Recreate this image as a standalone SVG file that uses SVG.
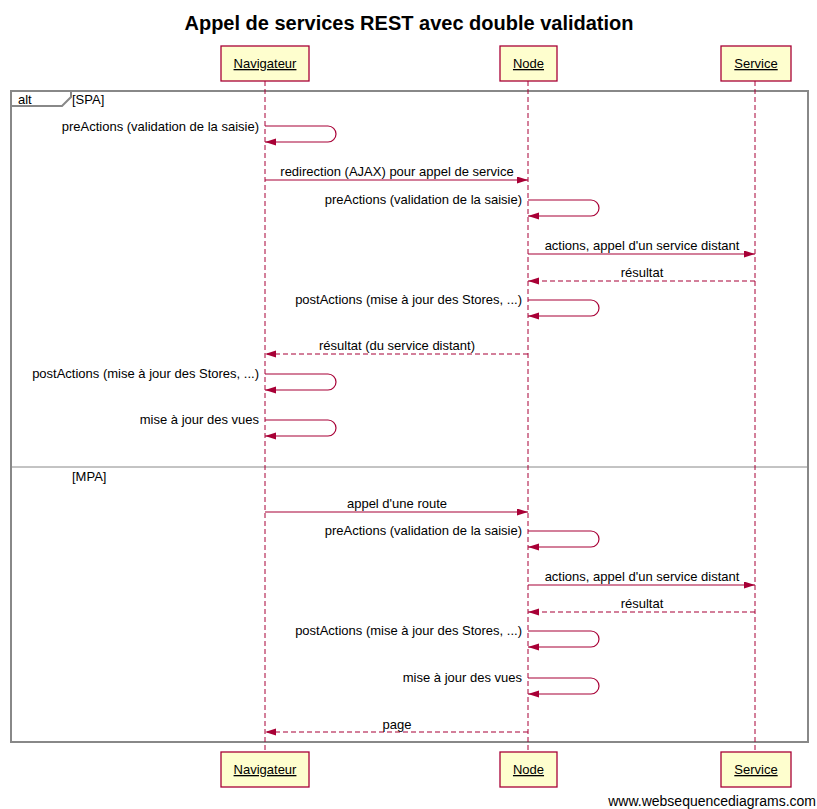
<svg xmlns="http://www.w3.org/2000/svg" width="817" height="809" viewBox="0 0 817 809">
<style>
text{font-family:"Liberation Sans",Arial,sans-serif;font-size:13px;fill:#000}
.title{font-size:20px;font-weight:bold}
.foot{font-size:14px}
.box{fill:#fefece;stroke:#a80036;stroke-width:1.3}
.pl{text-decoration:underline}
.life{stroke:#a80036;stroke-width:1;stroke-dasharray:5,3;fill:none}
.msg{stroke:#a80036;stroke-width:1.2;fill:none;marker-end:url(#ah)}
.ret{stroke:#a80036;stroke-width:1.2;fill:none;stroke-dasharray:5,3;marker-end:url(#ah)}
.frame{fill:none;stroke:#888;stroke-width:2}
.sep{stroke:#888;stroke-width:1}
.r{text-anchor:end}
.c{text-anchor:middle}
</style>
<defs>
<marker id="ah" markerUnits="userSpaceOnUse" markerWidth="12" markerHeight="8" refX="11" refY="3.5" orient="auto">
<path d="M0,0 L11,3.5 L0,7 z" fill="#a80036"/>
</marker>
</defs>
<rect width="817" height="809" fill="#fff"/>
<text class="title c" x="409" y="30">Appel de services REST avec double validation</text>

<g id="frame-alt">
<rect class="frame" x="11" y="91" width="797" height="651"/>
<path class="frame" d="M11,106 H62 L71,97 V91" stroke-width="1.5"/>
<text x="18" y="104">alt</text>
<text x="72" y="104">[SPA]</text>
<line class="sep" x1="11" y1="467" x2="808" y2="467"/>
<text x="72" y="481">[MPA]</text>
</g>

<g id="lifelines">
<line class="life" x1="265" y1="81" x2="265" y2="752"/>
<line class="life" x1="528" y1="81" x2="528" y2="752"/>
<line class="life" x1="755" y1="81" x2="755" y2="752"/>
</g>

<g id="navigateur">
<rect class="box" x="221" y="46" width="88" height="35"/>
<text class="pl c" x="265" y="68">Navigateur</text>
<rect class="box" x="221" y="752" width="88" height="35"/>
<text class="pl c" x="265" y="774">Navigateur</text>
</g>
<g id="node">
<rect class="box" x="500" y="46" width="57" height="35"/>
<text class="pl c" x="528.5" y="68">Node</text>
<rect class="box" x="500" y="752" width="57" height="35"/>
<text class="pl c" x="528.5" y="774">Node</text>
</g>
<g id="service">
<rect class="box" x="721" y="46" width="70" height="35"/>
<text class="pl c" x="756" y="68">Service</text>
<rect class="box" x="721" y="752" width="70" height="35"/>
<text class="pl c" x="756" y="774">Service</text>
</g>

<g id="connectors">
<path class="msg" d="M265,126 H328 A8,8 0 0 1 328,142 H265"/>
<text class="r" x="259" y="131">preActions (validation de la saisie)</text>

<line class="msg" x1="265" y1="180" x2="528" y2="180"/>
<text class="c" x="397" y="176">redirection (AJAX) pour appel de service</text>

<path class="msg" d="M528,200 H591 A8,8 0 0 1 591,216 H528"/>
<text class="r" x="522" y="204">preActions (validation de la saisie)</text>

<line class="msg" x1="528" y1="254" x2="755" y2="254"/>
<text class="c" x="642" y="250">actions, appel d'un service distant</text>

<line class="ret" x1="755" y1="281" x2="528" y2="281"/>
<text class="c" x="642" y="277">résultat</text>

<path class="msg" d="M528,300 H591 A8,8 0 0 1 591,316 H528"/>
<text class="r" x="522" y="304">postActions (mise à jour des Stores, ...)</text>

<line class="ret" x1="528" y1="354" x2="265" y2="354"/>
<text class="c" x="397" y="350">résultat (du service distant)</text>

<path class="msg" d="M265,374 H328 A8,8 0 0 1 328,390 H265"/>
<text class="r" x="259" y="378">postActions (mise à jour des Stores, ...)</text>

<path class="msg" d="M265,420 H328 A8,8 0 0 1 328,436 H265"/>
<text class="r" x="259" y="424">mise à jour des vues</text>

<line class="msg" x1="265" y1="512" x2="528" y2="512"/>
<text class="c" x="397" y="508">appel d'une route</text>

<path class="msg" d="M528,531 H591 A8,8 0 0 1 591,547 H528"/>
<text class="r" x="522" y="535">preActions (validation de la saisie)</text>

<line class="msg" x1="528" y1="585" x2="755" y2="585"/>
<text class="c" x="642" y="581">actions, appel d'un service distant</text>

<line class="ret" x1="755" y1="612" x2="528" y2="612"/>
<text class="c" x="642" y="608">résultat</text>

<path class="msg" d="M528,631 H591 A8,8 0 0 1 591,647 H528"/>
<text class="r" x="522" y="635">postActions (mise à jour des Stores, ...)</text>

<path class="msg" d="M528,678 H591 A8,8 0 0 1 591,694 H528"/>
<text class="r" x="522" y="682">mise à jour des vues</text>

<line class="ret" x1="528" y1="732" x2="265" y2="732"/>
<text class="c" x="397" y="729">page</text>
</g>

<text class="foot r" x="816" y="806">www.websequencediagrams.com</text>
</svg>
